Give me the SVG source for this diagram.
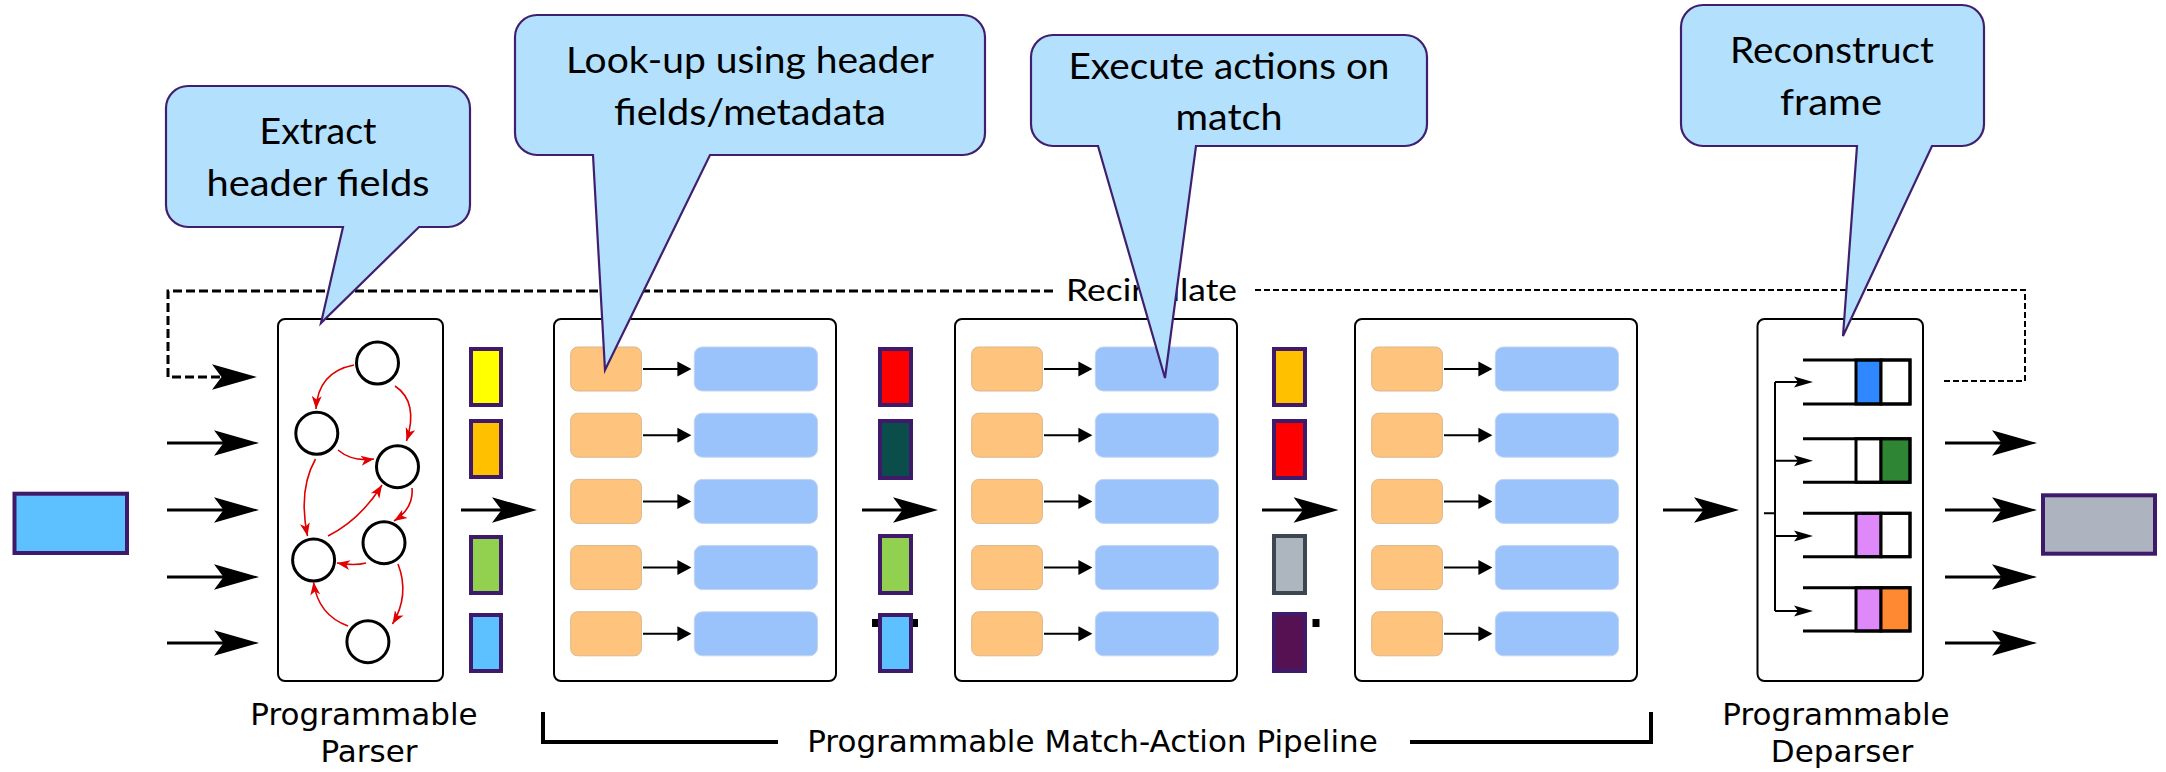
<svg xmlns="http://www.w3.org/2000/svg" xmlns:xlink="http://www.w3.org/1999/xlink" width="2166" height="772" viewBox="0 0 2166 772">
<style>
.ln{stroke:#000;stroke-width:3;fill:none}
.thin{stroke:#000;stroke-width:2;fill:none}
.red{stroke:#e00000;stroke-width:1.6;fill:none;marker-end:url(#rh)}
.box{fill:#fff;stroke:#000;stroke-width:2}
.circ{fill:#fff;stroke:#000;stroke-width:3}
.mk{fill:#fec47e;stroke:#d9b78c;stroke-width:1}
.act{fill:#9bc3fb;stroke:#c3d4ee;stroke-width:1}
.bar{stroke:#3f1a6b;stroke-width:4}
.q{fill:none;stroke:#000;stroke-width:3}
.cell{stroke:#000;stroke-width:3}
.callout{fill:#b3e1fd;stroke:#40206e;stroke-width:2.2}
.ct{font-family:Lato,"Liberation Sans",sans-serif;font-size:37px;text-anchor:middle;fill:#000}
.lbl{font-family:"DejaVu Sans",sans-serif;font-size:31px;text-anchor:middle;fill:#000}
.dashL{stroke:#000;stroke-width:3;fill:none;stroke-dasharray:9 4}
.dashR{stroke:#000;stroke-width:2;fill:none;stroke-dasharray:6 3}
</style>
<defs>
<path id="bigHead" d="M0,0 L-45,-12.7 L-35.5,0 L-45,12.7 Z" fill="#000"/>
<path id="tri" d="M0,0 L-14,-7.5 L-14,7.5 Z" fill="#000"/>
<path id="depHead" d="M0,0 L-19,-5.5 L-15,0 L-19,5.5 Z" fill="#000"/>
<marker id="rh" markerUnits="userSpaceOnUse" viewBox="0 0 14 12" refX="13" refY="6" markerWidth="14" markerHeight="12" orient="auto">
<path d="M0,1 L13,6 L0,11 L3.5,6 Z" fill="#e00000"/>
</marker>
<g id="row">
<rect class="mk" x="16.7" y="0" width="70.7" height="44" rx="7"/>
<line class="thin" x1="89" y1="22" x2="124" y2="22"/>
<use xlink:href="#tri" x="137.4" y="22"/>
<rect class="act" x="140.3" y="0" width="123.2" height="44" rx="8"/>
</g>
</defs>

<g id="connectors">
<path class="dashL" d="M1053,291 H168 V377 H222"/>
<use xlink:href="#bigHead" x="257" y="377"/>
<path class="dashR" d="M1255,290 H2025 V381 H1944"/>
<line class="ln" x1="167" y1="443" x2="224" y2="443"/><use xlink:href="#bigHead" x="259" y="443"/>
<line class="ln" x1="167" y1="510" x2="224" y2="510"/><use xlink:href="#bigHead" x="259" y="510"/>
<line class="ln" x1="167" y1="577" x2="224" y2="577"/><use xlink:href="#bigHead" x="259" y="577"/>
<line class="ln" x1="167" y1="643" x2="224" y2="643"/><use xlink:href="#bigHead" x="259" y="643"/>
<line class="ln" x1="461" y1="510" x2="502" y2="510"/><use xlink:href="#bigHead" x="537" y="510"/>
<line class="ln" x1="862" y1="510" x2="903" y2="510"/><use xlink:href="#bigHead" x="938" y="510"/>
<line class="ln" x1="1262" y1="510" x2="1303" y2="510"/><use xlink:href="#bigHead" x="1338.6" y="510"/>
<line class="ln" x1="1663" y1="510" x2="1704" y2="510"/><use xlink:href="#bigHead" x="1739" y="510"/>
<line class="ln" x1="1945" y1="443" x2="2002" y2="443"/><use xlink:href="#bigHead" x="2037" y="443"/>
<line class="ln" x1="1945" y1="510" x2="2002" y2="510"/><use xlink:href="#bigHead" x="2037" y="510"/>
<line class="ln" x1="1945" y1="577" x2="2002" y2="577"/><use xlink:href="#bigHead" x="2037" y="577"/>
<line class="ln" x1="1945" y1="643" x2="2002" y2="643"/><use xlink:href="#bigHead" x="2037" y="643"/>
<text x="1066" y="301" font-family="Lato, 'Liberation Sans', sans-serif" font-size="31" textLength="171" lengthAdjust="spacingAndGlyphs">Recirculate</text>
</g>

<g id="input-frame">
<rect x="14.5" y="493.7" width="112.5" height="59.3" fill="#5ec1ff" stroke="#3f1a6b" stroke-width="4"/>
</g>

<g id="parser">
<rect class="box" x="278" y="319" width="165" height="362" rx="7"/>
<circle class="circ" cx="377.5" cy="363" r="21"/>
<circle class="circ" cx="316.8" cy="433.3" r="21"/>
<circle class="circ" cx="397.5" cy="466.7" r="21"/>
<circle class="circ" cx="384" cy="542.7" r="21"/>
<circle class="circ" cx="313.6" cy="560" r="21"/>
<circle class="circ" cx="367.9" cy="641.7" r="21"/>
<path class="red" d="M354,365 Q318,372 316,409"/>
<path class="red" d="M395,386 Q419,402 406.5,441"/>
<path class="red" d="M338,450 Q352,462 374,459"/>
<path class="red" d="M315.5,459 Q298,490 307.5,536"/>
<path class="red" d="M328,536 Q360,520 382,485"/>
<path class="red" d="M412,488 Q414,508 394,521"/>
<path class="red" d="M366,563 Q355,566 337,563"/>
<path class="red" d="M398,564 Q410,595 392.5,624"/>
<path class="red" d="M348,626 Q318,615 313.5,582"/>
<text class="lbl" x="364" y="725">Programmable</text>
<text class="lbl" x="369" y="762">Parser</text>
</g>

<g id="headers-1">
<rect class="bar" x="471" y="349" width="30" height="56" fill="#ffff00"/>
<rect class="bar" x="471" y="421" width="30" height="56" fill="#ffc000"/>
<rect class="bar" x="471" y="537" width="30" height="56" fill="#92d050"/>
<rect class="bar" x="471" y="615" width="30" height="56" fill="#5ec1ff"/>
</g>

<g id="stage-1">
<rect class="box" x="554" y="319" width="282" height="362" rx="7"/>
<use xlink:href="#row" x="554" y="347"/>
<use xlink:href="#row" x="554" y="413.2"/>
<use xlink:href="#row" x="554" y="479.4"/>
<use xlink:href="#row" x="554" y="545.6"/>
<use xlink:href="#row" x="554" y="611.8"/>
</g>

<g id="headers-2">
<rect class="bar" x="880" y="349" width="31" height="56" fill="#ff0000"/>
<rect class="bar" x="880" y="421" width="31" height="57" fill="#0b4d4a"/>
<rect class="bar" x="880" y="536" width="31" height="57" fill="#92d050"/>
<rect x="872" y="619" width="46" height="8" fill="#000"/>
<rect class="bar" x="880" y="615" width="31" height="56" fill="#5ec1ff"/>
</g>

<g id="stage-2">
<rect class="box" x="955" y="319" width="282" height="362" rx="7"/>
<use xlink:href="#row" x="955" y="347"/>
<use xlink:href="#row" x="955" y="413.2"/>
<use xlink:href="#row" x="955" y="479.4"/>
<use xlink:href="#row" x="955" y="545.6"/>
<use xlink:href="#row" x="955" y="611.8"/>
</g>

<g id="headers-3">
<rect class="bar" x="1274" y="349" width="31" height="56" fill="#ffc000"/>
<rect class="bar" x="1274" y="421" width="31" height="57" fill="#ff0000"/>
<rect x="1274" y="536" width="31" height="57" fill="#adb5bf" stroke="#3d4752" stroke-width="4"/>
<rect class="bar" x="1274" y="614" width="31" height="57" fill="#561152"/>
<rect x="1312.5" y="619" width="7" height="8" fill="#000"/>
</g>

<g id="stage-3">
<rect class="box" x="1355" y="319" width="282" height="362" rx="7"/>
<use xlink:href="#row" x="1355" y="347"/>
<use xlink:href="#row" x="1355" y="413.2"/>
<use xlink:href="#row" x="1355" y="479.4"/>
<use xlink:href="#row" x="1355" y="545.6"/>
<use xlink:href="#row" x="1355" y="611.8"/>
</g>

<g id="pipeline-label">
<path d="M543,712 V742 H778" fill="none" stroke="#000" stroke-width="4"/>
<path d="M1410,742 H1651 V712" fill="none" stroke="#000" stroke-width="4"/>
<text class="lbl" x="1092.5" y="752">Programmable Match-Action Pipeline</text>
</g>

<g id="deparser">
<rect class="box" x="1757.5" y="319" width="165.5" height="362" rx="7"/>
<rect class="cell" x="1856" y="360" width="25" height="44" fill="#2f88ff"/>
<rect class="cell" x="1881" y="360" width="29" height="44" fill="#fff"/>
<path class="q" d="M1803,360 H1910 V404 H1803"/>
<rect class="cell" x="1856" y="438.7" width="25" height="43.6" fill="#fff"/>
<rect class="cell" x="1881" y="438.7" width="29" height="43.6" fill="#2e8534"/>
<path class="q" d="M1803,438.7 H1910 V482.3 H1803"/>
<rect class="cell" x="1856" y="513.3" width="25" height="43.4" fill="#de88f9"/>
<rect class="cell" x="1881" y="513.3" width="29" height="43.4" fill="#fff"/>
<path class="q" d="M1803,513.3 H1910 V556.7 H1803"/>
<rect class="cell" x="1856" y="587.7" width="25" height="43.3" fill="#de88f9"/>
<rect class="cell" x="1881" y="587.7" width="29" height="43.3" fill="#ff8833"/>
<path class="q" d="M1803,587.7 H1910 V631 H1803"/>
<path class="thin" d="M1764,513.3 H1775 M1775,382 V611 M1775,382 H1798 M1775,460.7 H1798 M1775,536 H1798 M1775,611 H1798"/>
<use xlink:href="#depHead" x="1813" y="382"/>
<use xlink:href="#depHead" x="1813" y="460.7"/>
<use xlink:href="#depHead" x="1813" y="536"/>
<use xlink:href="#depHead" x="1813" y="611"/>
<text class="lbl" x="1836" y="725">Programmable</text>
<text class="lbl" x="1842" y="762">Deparser</text>
</g>

<g id="output-frame">
<rect x="2043" y="495.3" width="112" height="58.4" fill="#aeb4bf" stroke="#3f1a6b" stroke-width="4"/>
</g>

<g id="callout-extract">
<path class="callout" d="M188,86 H448 A22,22 0 0 1 470,108 V205 A22,22 0 0 1 448,227 H419 L321,323 L343,227 H188 A22,22 0 0 1 166,205 V108 A22,22 0 0 1 188,86 Z"/>
<text class="ct" x="318" y="144" textLength="117" lengthAdjust="spacingAndGlyphs">Extract</text>
<text class="ct" x="318" y="196" textLength="223" lengthAdjust="spacingAndGlyphs">header fields</text>
</g>

<g id="callout-lookup">
<path class="callout" d="M537,15 H963 A22,22 0 0 1 985,37 V133 A22,22 0 0 1 963,155 H710 L605,370 L593,155 H537 A22,22 0 0 1 515,133 V37 A22,22 0 0 1 537,15 Z"/>
<text class="ct" x="750" y="73" textLength="368" lengthAdjust="spacingAndGlyphs">Look-up using header</text>
<text class="ct" x="750" y="125" textLength="272" lengthAdjust="spacingAndGlyphs">fields/metadata</text>
</g>

<g id="callout-execute">
<path class="callout" d="M1053,35 H1405 A22,22 0 0 1 1427,57 V124 A22,22 0 0 1 1405,146 H1196 L1165,378 L1098,146 H1053 A22,22 0 0 1 1031,124 V57 A22,22 0 0 1 1053,35 Z"/>
<text class="ct" x="1229" y="79" textLength="321" lengthAdjust="spacingAndGlyphs">Execute actions on</text>
<text class="ct" x="1229" y="130" textLength="107" lengthAdjust="spacingAndGlyphs">match</text>
</g>

<g id="callout-reconstruct">
<path class="callout" d="M1703,5 H1962 A22,22 0 0 1 1984,27 V124 A22,22 0 0 1 1962,146 H1932 L1843,336 L1857,146 H1703 A22,22 0 0 1 1681,124 V27 A22,22 0 0 1 1703,5 Z"/>
<text class="ct" x="1832" y="63" textLength="204" lengthAdjust="spacingAndGlyphs">Reconstruct</text>
<text class="ct" x="1831" y="115" textLength="102" lengthAdjust="spacingAndGlyphs">frame</text>
</g>
</svg>
